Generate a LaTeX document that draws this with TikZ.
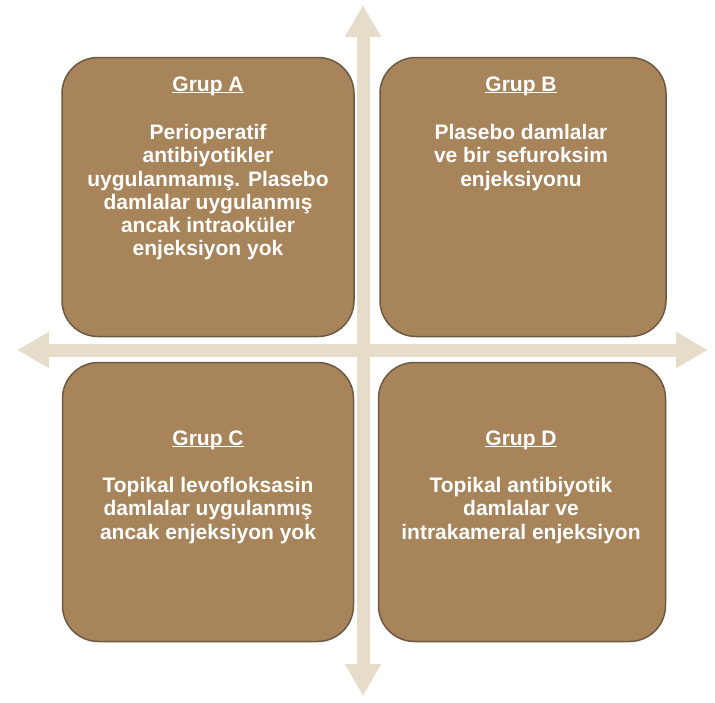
\documentclass[tikz,border=0pt]{standalone}
\usepackage{fontspec}
\setmainfont{Liberation Sans}
\usetikzlibrary{arrows.meta}
\definecolor{kahve}{RGB}{168,132,90}
\definecolor{kenar}{RGB}{110,90,66}
\definecolor{bej}{RGB}{230,220,202}
\newcommand{\baslik}[1]{\underline{\smash{#1}}}

\begin{document}
\begin{tikzpicture}[x=1pt, y=-1pt,
    grup/.style={draw=kenar, fill=kahve, line width=1.5pt, rounded corners=36pt, inner sep=0pt, minimum height=279pt},
    yazi/.style={text=white, font=\fontsize{21}{23.3}\selectfont\bfseries, align=center, inner sep=0pt},
    ok/.style={bej, line width=13pt, {Triangle[width=34pt,length=32pt]}-{Triangle[width=34pt,length=32pt]}}]
    \useasboundingbox (0,0) rectangle (715,702);

    % Eksenler
    \coordinate (ust) at (363,5);
    \coordinate (alt) at (363,696);
    \coordinate (sol) at (17,350);
    \coordinate (sag) at (708,350);
    \draw[ok] (ust) -- (alt);
    \draw[ok] (sol) -- (sag);

    % Grup kutulari
    \node[grup, minimum width=292pt] (grupA) at (208,197) {};
    \node[grup, minimum width=286pt] (grupB) at (523,197) {};
    \node[grup, minimum width=291pt] (grupC) at (208,502) {};
    \node[grup, minimum width=287pt] (grupD) at (522,502) {};

    % Grup A
    \node[yazi, anchor=base] (baslikA) at (208,91) {\baslik{Grup A}};
    \node[yazi, anchor=north] (metinA) at (208,124) {Perioperatif\\antibiyotikler\\uygulanmamış. Plasebo\\damlalar uygulanmış\\ancak intraoküler\\enjeksiyon yok};

    % Grup B
    \node[yazi, anchor=base] (baslikB) at (521,91) {\baslik{Grup B}};
    \node[yazi, anchor=north] (metinB) at (521,124) {Plasebo damlalar\\ve bir sefuroksim\\enjeksiyonu};

    % Grup C
    \node[yazi, anchor=base] (baslikC) at (208,445) {\baslik{Grup C}};
    \node[yazi, anchor=north] (metinC) at (208,477) {Topikal levofloksasin\\damlalar uygulanmış\\ancak enjeksiyon yok};

    % Grup D
    \node[yazi, anchor=base] (baslikD) at (521,445) {\baslik{Grup D}};
    \node[yazi, anchor=north] (metinD) at (521,477) {Topikal antibiyotik\\damlalar ve\\intrakameral enjeksiyon};
\end{tikzpicture}
\end{document}
